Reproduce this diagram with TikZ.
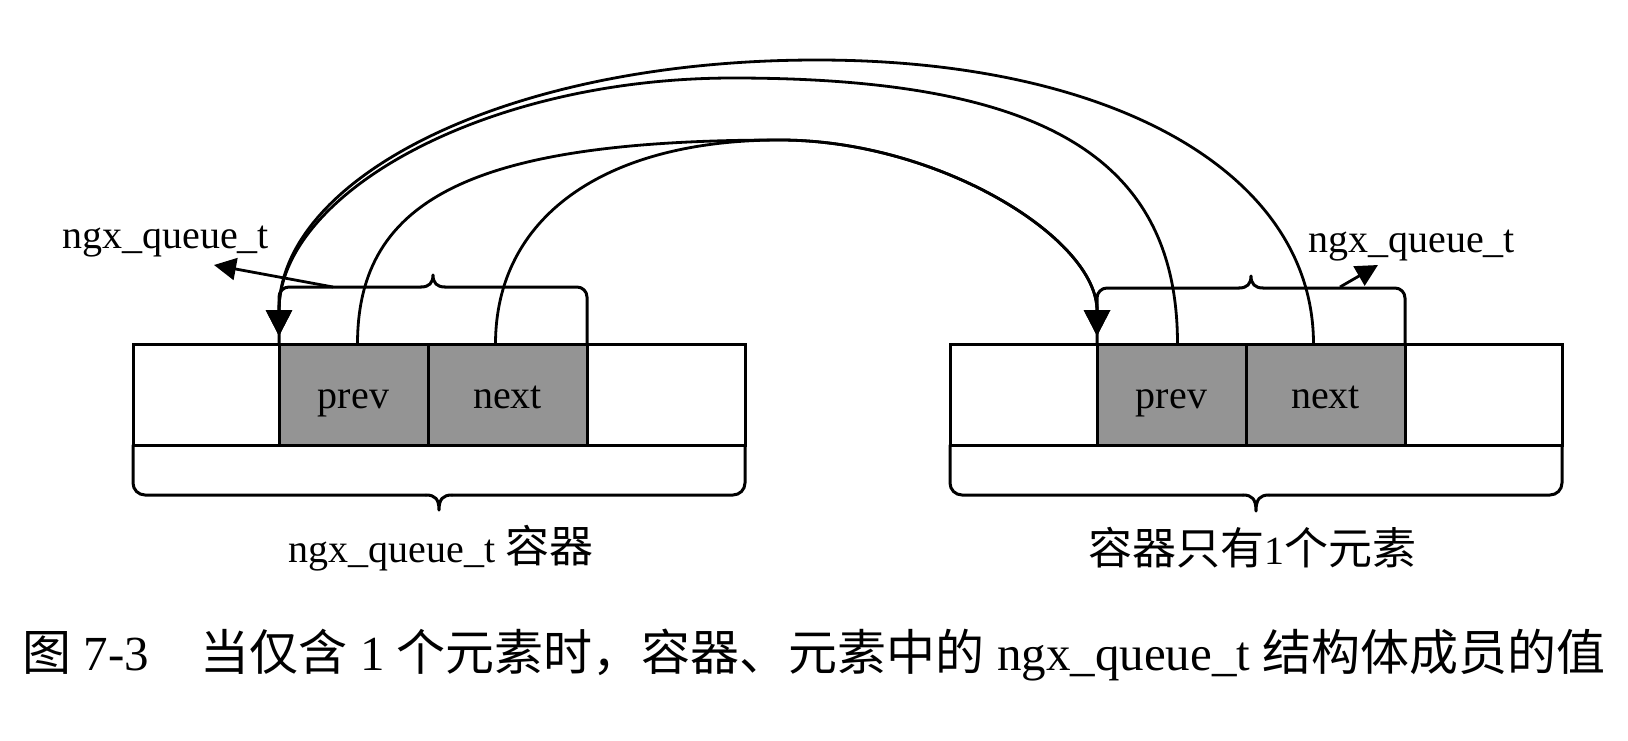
\documentclass[tikz,border=0pt]{standalone}
\usepackage{fontspec}
\setmainfont{Liberation Serif}
\newfontfamily\cjk{Noto Sans CJK SC}
\usetikzlibrary{arrows.meta}
\begin{document}
\begin{tikzpicture}[x=0.5pt,y=-0.5pt,
  box/.style={draw, line width=1.5pt, minimum height=50.5pt, outer sep=0pt, inner sep=0pt, anchor=north west},
  cell/.style={box, fill=black!42, font=\fontsize{20}{24}\selectfont, text height=15pt, text depth=1.5pt},
  conn/.style={line width=1.4pt, -{Triangle[length=13pt,width=13pt]}},
  labarrow/.style={line width=1.4pt, -{Triangle[length=11pt,width=11pt]}},
  lab/.style={font=\fontsize{20}{24}\selectfont, inner sep=0pt},
  brace/.style={line width=1.5pt, line cap=round, line join=round},
]
\fill[white] (0,0) rectangle (1628,740);
\useasboundingbox (0,0) rectangle (1628,740);

% containers
\node[box, minimum width=306pt] (lbox) at (133,344) {};
\node[box, minimum width=306pt] (rbox) at (950,344) {};
\node[cell, minimum width=74.5pt] (lprev) at (279,344) {prev};
\node[cell, minimum width=79.5pt] (lnext) at (428,344) {next};
\node[cell, minimum width=74.5pt] (rprev) at (1097,344) {prev};
\node[cell, minimum width=79.5pt] (rnext) at (1246,344) {next};

% top braces
\draw[brace, rounded corners=5pt] (279,344) |- (421,287);
\draw[brace] (421,287) .. controls (429,287) and (433,283) .. (433,275) .. controls (433,283) and (437,287) .. (445,287);
\draw[brace, rounded corners=5pt] (445,287) -| (587,344);

\draw[brace, rounded corners=5pt] (1097,344) |- (1239,288);
\draw[brace] (1239,288) .. controls (1247,288) and (1251,284) .. (1251,276) .. controls (1251,284) and (1255,288) .. (1263,288);
\draw[brace, rounded corners=5pt] (1263,288) -| (1405,344);

% bottom braces
\draw[brace, rounded corners=6pt] (133,445) |- (426,495);
\draw[brace] (426,495) .. controls (435,495) and (439,499) .. (439,510) .. controls (439,499) and (443,495) .. (452,495);
\draw[brace, rounded corners=6pt] (452,495) -| (745,445);

\draw[brace, rounded corners=6pt] (950,445) |- (1243,495);
\draw[brace] (1243,495) .. controls (1252,495) and (1256,499) .. (1256,511) .. controls (1256,499) and (1260,495) .. (1269,495);
\draw[brace, rounded corners=6pt] (1269,495) -| (1562,445);

% labels
\node[lab, anchor=base west] (lq) at (62,248) {ngx\_queue\_t};
\node[lab, anchor=base west] (rq) at (1308,252) {ngx\_queue\_t};
\coordinate (lbr) at (333,287);
\coordinate (ltip) at (214,265);
\coordinate (rbr) at (1340,287);
\coordinate (rtip) at (1378,265);
\draw[labarrow] (lbr) -- (ltip);
\draw[labarrow] (rbr) -- (rtip);

% arcs
\coordinate (apA) at (817,60);
\coordinate (apB) at (733,78);
\coordinate (apC) at (780,140);
\draw[conn] ([xshift=-6pt]rnext.north) .. controls +(0,-170) and +(298,0) .. (apA) .. controls +(-311,0) and +(0,-158) .. ([yshift=4pt]lprev.north west);
\draw[conn] ([xshift=3pt]rprev.north) .. controls +(0,-186) and +(311,0) .. (apB) .. controls +(-249,0) and +(0,-142) .. ([yshift=4pt]lprev.north west);
\draw[conn] ([xshift=2pt]lprev.north) .. controls +(0,-147) and +(-304,0) .. (apC) .. controls +(158,0) and +(0,-98) .. ([yshift=4pt]rprev.north west);
\draw[conn] ([xshift=-6pt]lnext.north) .. controls +(0,-126) and +(-177,0) .. (apC) .. controls +(158,0) and +(0,-98) .. ([yshift=4pt]rprev.north west);

% captions
\node[lab] (lcap) at (441,548) {ngx\_queue\_t {\cjk\fontsize{22}{26}\selectfont 容器}};
\node[lab] (rcap) at (1252,548) {{\cjk\fontsize{22}{26}\selectfont 容器只有}1{\cjk\fontsize{22}{26}\selectfont 个元素}};
\node[font=\fontsize{24.5}{30}\selectfont, inner sep=0pt] (cap) at (814,655) {{\cjk 图} 7-3\hspace{26pt}{\cjk 当仅含} 1 {\cjk 个元素时，容器、元素中的} ngx\_queue\_t {\cjk 结构体成员的值}};
\end{tikzpicture}
\end{document}
